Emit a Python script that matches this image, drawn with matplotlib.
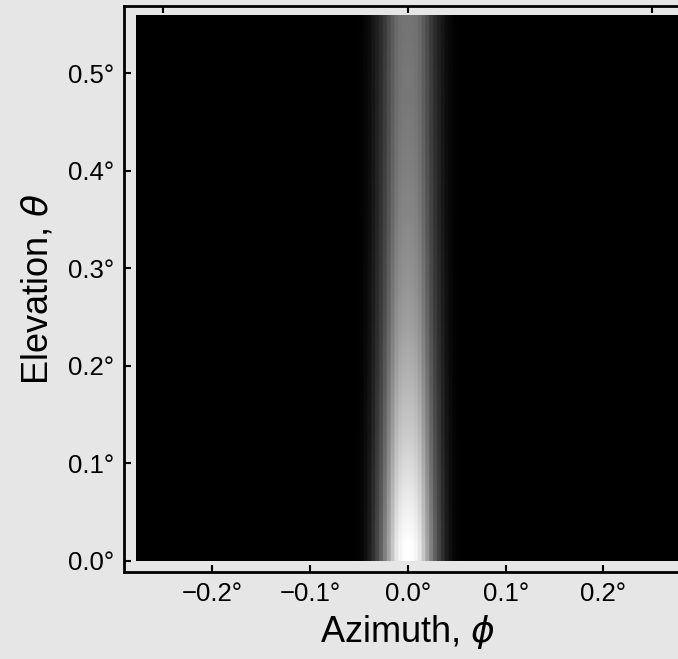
import numpy as np
import matplotlib
matplotlib.use("Agg")
import matplotlib.pyplot as plt

plt.rcParams['font.family'] = ['Liberation Sans', 'DejaVu Sans']
plt.rcParams['mathtext.fontset'] = 'custom'
plt.rcParams['mathtext.rm'] = 'Liberation Sans'
plt.rcParams['mathtext.it'] = 'DejaVu Sans:italic'

# ---- data ----
phi_step = 0.004                      # azimuth column width (deg)
phi_half_range = 0.278                # image extent in azimuth (deg)
theta_max = 0.559                     # image extent in elevation (deg)
# azimuth profile at |phi| = 0, 0.004, 0.008, ... (relative intensity)
phi_profile = [1.00, 0.99, 0.96, 0.90, 0.78, 0.64, 0.50, 0.38, 0.28,
               0.19, 0.11, 0.06, 0.025, 0.01]
# elevation nodes (deg) and relative intensity at the band centre
theta_nodes = [0.00, 0.04, 0.08, 0.12, 0.16, 0.20, 0.24, 0.28, 0.32,
               0.36, 0.40, 0.44, 0.48, 0.52, 0.56]
theta_profile = [1.00, 0.94, 0.87, 0.80, 0.74, 0.68, 0.63, 0.59, 0.56,
                 0.53, 0.51, 0.49, 0.48, 0.47, 0.46]
x_ticks = [-0.2, -0.1, 0.0, 0.1, 0.2]
y_ticks = [0.0, 0.1, 0.2, 0.3, 0.4, 0.5]
top_ticks = [-0.25, 0.0, 0.25]

# ---- build image matrix ----
n_half = int(round(phi_half_range / phi_step))
col_idx = np.abs(np.arange(-n_half, n_half + 1))
prof = np.array(phi_profile)
cols = np.array([prof[i] if i < len(prof) else 0.0 for i in col_idx])
rep = 8
cols_rep = np.repeat(cols, rep)
img = np.outer(np.array(theta_profile), cols_rep)

bg = '#e6e6e6'
fig = plt.figure(figsize=(6.78, 6.59), dpi=100, facecolor=bg)
W, H = 678, 659
left_px, right_px, top_px, bot_px = 124, 691.6, 6, 572
ax = fig.add_axes([left_px / W, (H - bot_px) / H,
                   (right_px - left_px) / W, (bot_px - top_px) / H])
ax.set_facecolor(bg)

ax.imshow(img, cmap='gray', vmin=0, vmax=1, origin='lower',
          interpolation='bilinear', aspect='auto',
          extent=[-phi_half_range, phi_half_range, 0, theta_max])

px_per_deg_x = 978.0
px_per_deg_y = 975.0
x0 = -(407.8 - left_px) / px_per_deg_x
x1 = x0 + (right_px - left_px) / px_per_deg_x
y0 = -(bot_px - 560.7) / px_per_deg_y
y1 = y0 + (bot_px - top_px) / px_per_deg_y
ax.set_xlim(x0, x1)
ax.set_ylim(y0, y1)

for s in ax.spines.values():
    s.set_linewidth(2.0)
    s.set_color('black')

ax.set_xticks(x_ticks)
ax.set_xticklabels([("\u2212" if v < 0 else "") + f"{abs(v):.1f}\u00b0" for v in x_ticks])
ax.set_yticks(y_ticks)
ax.set_yticklabels([f"{v:.1f}\u00b0" for v in y_ticks])
ax.tick_params(direction='in', length=5, width=1.5, labelsize=18.5, pad=7,
               colors='black', top=False, right=False)

sec = ax.secondary_xaxis('top')
sec.set_xticks(top_ticks)
sec.tick_params(direction='in', length=5, width=1.5, labeltop=False)
sec.spines['top'].set_visible(False)

ax.set_xlabel(r'Azimuth, $\phi$', fontsize=26, labelpad=5)
ax.set_ylabel(r'Elevation, $\theta$', fontsize=26, labelpad=9)

fig.savefig('out.png', dpi=100, facecolor=bg)
